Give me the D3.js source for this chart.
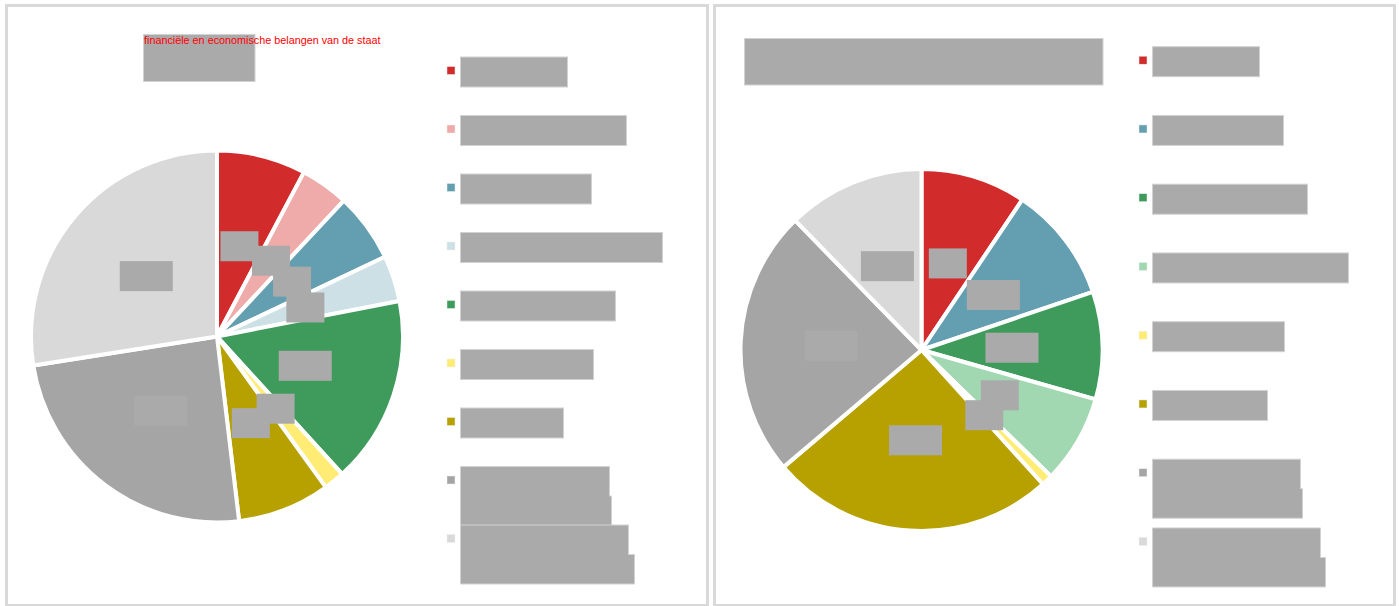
<!DOCTYPE html>
<html>
<head>
<meta charset="utf-8">
<script src="https://cdn.jsdelivr.net/npm/d3@7"></script>
<style>
  body { margin: 0; background: #fff; }
  svg { display: block; }
</style>
</head>
<body>
<script>
// left chart
var cats1 = ["cat1", "cat2", "cat3", "cat4", "cat5", "cat6", "cat7", "cat8", "cat9"]
var values1 = [7.75, 4.2, 6.0, 4.0, 16.3, 1.8, 8.05, 24.4, 27.5]
var colors1 = ["#d12b2b", "#eeabaa", "#639fb0", "#cde0e5", "#3f9b5c", "#ffec74", "#b6a100", "#a5a5a5", "#d9d9d9"]
// right chart
var cats2 = ["cat1", "cat3", "cat5", "cat10", "cat6", "cat7", "cat8", "cat9"]
var values2 = [9.4, 10.4, 9.6, 7.9, 1.0, 25.5, 23.9, 12.3]
var colors2 = ["#d12b2b", "#639fb0", "#3f9b5c", "#a1d8b1", "#ffec74", "#b6a100", "#a5a5a5", "#d9d9d9"]

// widths of the blanked legend lines (one entry per line)
var legendW1 = [[107], [166], [131], [202], [155], [133], [103], [149, 151], [168, 174]]
var legendW2 = [[107], [131], [155], [196], [132], [115], [148, 150], [168, 173]]

var titleText = "financiële en economische belangen van de staat"

var svg = d3.select("body").append("svg")
  .attr("width", 1399)
  .attr("height", 606)

// panel frames
svg.append("rect").attr("x", 6.5).attr("y", 5.5).attr("width", 701).attr("height", 600)
  .attr("fill", "#fff").attr("stroke", "#d9d9d9").attr("stroke-width", 3)
svg.append("rect").attr("x", 714.5).attr("y", 5.5).attr("width", 680).attr("height", 600)
  .attr("fill", "#fff").attr("stroke", "#d9d9d9").attr("stroke-width", 3)

function blank(g, x, y, w, h, edge) {
  g.append("rect")
    .attr("x", x).attr("y", y).attr("width", w).attr("height", h)
    .attr("fill", "#aaaaaa")
    .attr("stroke", edge ? "#d2d2d2" : "none")
    .attr("stroke-width", 1)
}

// stepped block made of several lines, drawn as one outline
function blankLines(g, x, y, widths, h) {
  var pts = [[x, y]]
  widths.forEach(function(w, j) {
    pts.push([x + w, y + j * h])
    pts.push([x + w, y + (j + 1) * h])
  })
  pts.push([x, y + widths.length * h])
  g.append("path")
    .attr("d", d3.line()(pts) + "Z")
    .attr("fill", "#aaaaaa")
    .attr("stroke", "#d2d2d2")
    .attr("stroke-width", 1)
}

function drawPie(cx, cy, r, values, colors) {
  var g = svg.append("g").attr("transform", "translate(" + cx + "," + cy + ")")
  var pie = d3.pie().sort(null).value(d => d)
  var arc = d3.arc().innerRadius(0).outerRadius(r)
  var arcs = pie(values)

  g.selectAll("path.slice")
    .data(arcs)
    .enter().append("path")
    .attr("class", "slice")
    .attr("d", arc)
    .attr("fill", (d, i) => colors[i])
    .attr("stroke", "#fff")
    .attr("stroke-width", 4)
    .attr("stroke-linejoin", "round")

  // data labels, blanked out
  arcs.forEach(function(d) {
    var c = arc.centroid(d)
    var lab = Math.round(d.value) + "%"
    var w = 8 + 15 * lab.length
    blank(g, c[0] - w / 2, c[1] - 15, w, 30, false)
  })
}

function drawLegend(x, y0, step, colors, widths) {
  var g = svg.append("g")
  var y = d3.scaleLinear().domain([0, 1]).range([y0, y0 + step])
  widths.forEach(function(lines, i) {
    var yc = y(i)
    g.append("rect")
      .attr("x", x).attr("y", yc - 4).attr("width", 8).attr("height", 8)
      .attr("fill", colors[i])
      .attr("stroke", "#eee").attr("stroke-width", 0.5)
    if (lines.length > 1) blankLines(g, x + 13.5, yc - 13.5, lines, 29.5)
    else blank(g, x + 13.5, yc - 13.5, lines[0], 30, true)
  })
}

// left panel
blank(svg, 143.5, 34.5, 111.5, 47, true)
svg.append("text")
  .attr("x", 144)
  .attr("y", 43.5)
  .attr("font-family", "Liberation Sans, Arial, sans-serif")
  .attr("font-size", 10.8)
  .attr("fill", "#ff0000")
  .text(titleText)
drawPie(217, 336.5, 186, values1, colors1)
drawLegend(447, 70.5, 58.5, colors1, legendW1)

// right panel
blank(svg, 744.5, 38.5, 358.5, 46.5, true)
drawPie(921.5, 350, 181, values2, colors2)
drawLegend(1139, 60.2, 68.75, colors2, legendW2)
</script>
</body>
</html>
